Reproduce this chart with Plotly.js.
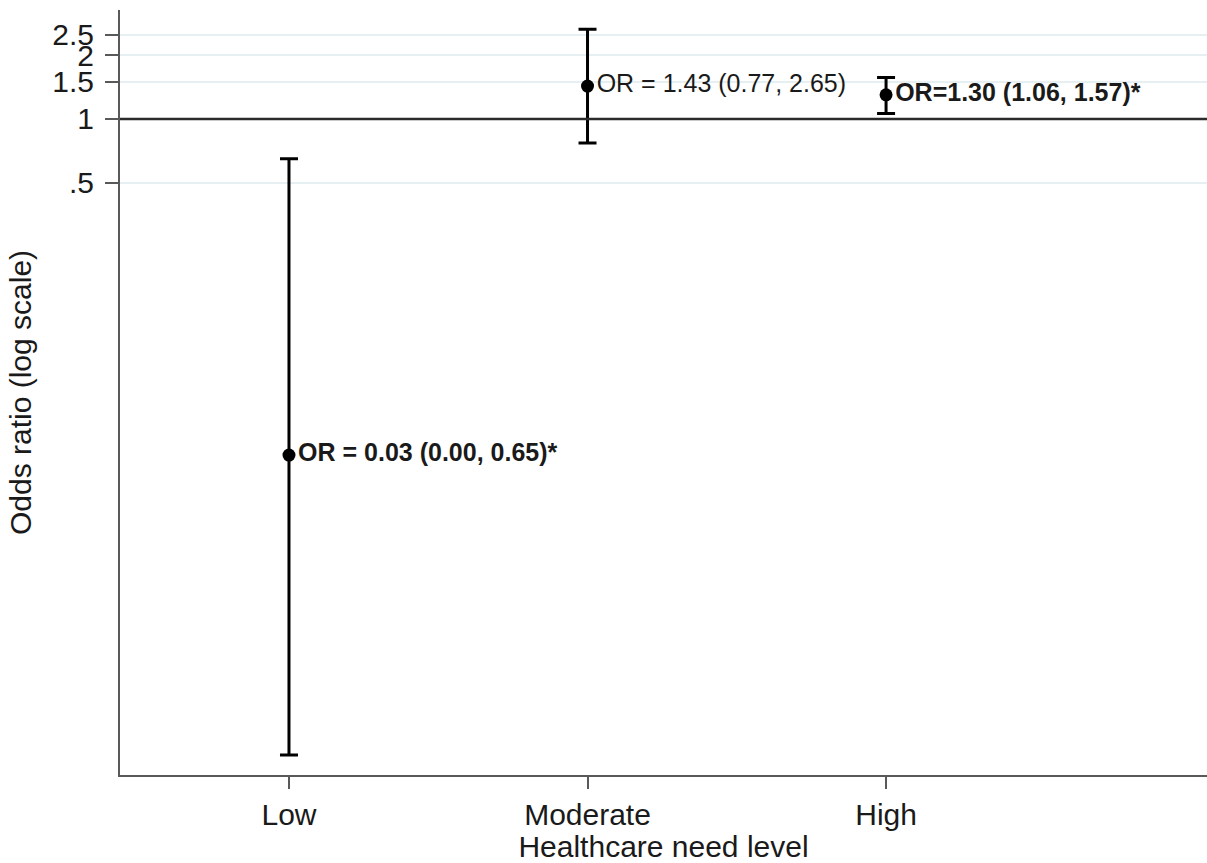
<!DOCTYPE html>
<html>
<head>
<meta charset="utf-8">
<script src="https://cdn.plot.ly/plotly-3.0.1.min.js"></script>
<style>html,body{margin:0;padding:0;background:#fff;}#chart{width:1207px;height:863px;}</style>
</head>
<body>
<div id="chart"></div>
<script>
// Data
const categories = ["Low", "Moderate", "High"];
const oddsRatio = [0.026, 1.43, 1.30];
const ciLower = [0.001, 0.77, 1.06];
const ciUpper = [0.65, 2.65, 1.57];
const pointLabels = [
  "<b>OR = 0.03 (0.00, 0.65)*</b>",
  "OR = 1.43 (0.77, 2.65)",
  "<b>OR=1.30 (1.06, 1.57)*</b>"
];
const yTickVals = [0.5, 1, 1.5, 2, 2.5];
const yTickText = [".5", "1", "1.5", "2", "2.5"];
const refValue = 1;

const errPlus = oddsRatio.map((v, i) => ciUpper[i] - v);
const errMinus = oddsRatio.map((v, i) => v - ciLower[i]);

const FONT = "Liberation Sans, Arial, sans-serif";
const TXT = "#1a1a1a";

const trace = {
  type: "scatter",
  mode: "markers+text",
  x: categories,
  y: oddsRatio,
  text: pointLabels,
  textposition: "middle right",
  textfont: {family: FONT, size: 25, color: TXT},
  marker: {color: "#000", size: 13},
  error_y: {
    type: "data",
    symmetric: false,
    array: errPlus,
    arrayminus: errMinus,
    color: "#000",
    thickness: 3,
    width: 9
  },
  cliponaxis: false,
  hoverinfo: "x+y"
};

const layout = {
  width: 1207,
  height: 863,
  margin: {l: 120, r: 0, t: 10, b: 88},
  paper_bgcolor: "#fff",
  plot_bgcolor: "#fff",
  showlegend: false,
  font: {family: FONT, color: TXT},
  xaxis: {
    type: "category",
    range: [-0.566, 3.075],
    showgrid: false,
    showline: true,
    linecolor: "#595959",
    linewidth: 2,
    ticks: "outside",
    ticklen: 12,
    tickwidth: 2,
    tickcolor: "#595959",
    tickfont: {family: FONT, size: 30, color: TXT},
    title: {text: "Healthcare need level", font: {family: FONT, size: 30, color: TXT}, standoff: 4},
    zeroline: false,
    automargin: false
  },
  yaxis: {
    type: "log",
    range: [-3.094, 0.514],
    tickmode: "array",
    tickvals: yTickVals,
    ticktext: yTickText,
    showgrid: true,
    gridcolor: "#e6eff1",
    gridwidth: 2,
    showline: true,
    linecolor: "#595959",
    linewidth: 2,
    ticks: "outside",
    ticklen: 13,
    tickwidth: 2,
    tickcolor: "#595959",
    tickfont: {family: FONT, size: 30, color: TXT},
    ticklabelstandoff: 5,
    title: {text: "Odds ratio (log scale)", font: {family: FONT, size: 30, color: TXT}, standoff: 12},
    zeroline: false,
    automargin: false
  },
  shapes: [{
    type: "line",
    xref: "paper",
    yref: "y",
    x0: 0, x1: 1,
    y0: refValue, y1: refValue,
    line: {color: "#2b2b2b", width: 2.5},
    layer: "above"
  }]
};

Plotly.newPlot("chart", [trace], layout, {displayModeBar: false, staticPlot: true});
</script>
</body>
</html>
